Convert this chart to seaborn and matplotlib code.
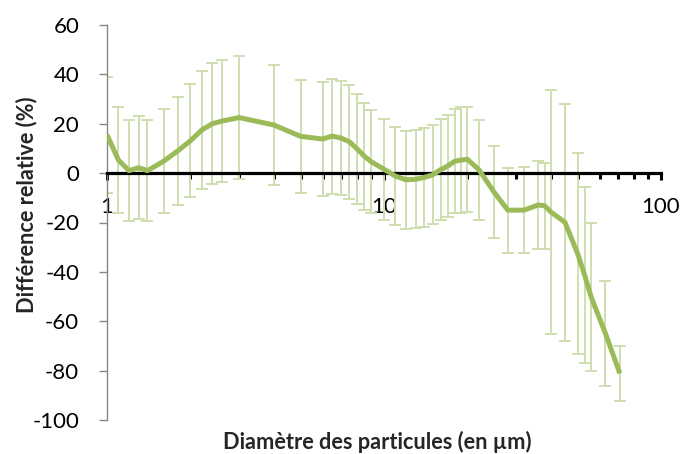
import matplotlib
matplotlib.use("Agg")
import matplotlib.pyplot as plt
import matplotlib.ticker as mticker
import seaborn as sns
import pandas as pd

# Data
diametre = [1.0, 1.1, 1.2, 1.3, 1.4, 1.6, 1.8, 2.0, 2.2, 2.4,
            2.6, 3.0, 4.0, 5.0, 6.0, 6.5, 7.0, 7.5, 8.0, 8.5,
            9.0, 10, 11, 12, 13, 14, 15, 16, 17, 18,
            19, 20, 22, 25, 28, 32, 36, 38, 40, 45,
            50, 53, 56, 63, 71]
difference = [15.5, 5.3, 1.0, 2.2, 1.0, 4.8, 9.0, 13.1, 17.5, 20.0,
              21.1, 22.5, 19.5, 14.9, 13.8, 15.0, 14.2, 12.7, 9.8, 6.8,
              4.6, 1.6, -1.2, -2.7, -2.5, -1.7, -0.7, 1.4, 2.9, 4.8,
              5.3, 5.6, 1.4, -7.8, -15.0, -15.0, -12.9, -13.2, -15.7, -19.9,
              -32.6, -41.3, -50.3, -64.9, -81.1]
erreur = [23.5, 21.3, 20.5, 20.9, 20.5, 21.0, 22.0, 22.9, 24.0, 24.5,
          24.6, 24.9, 24.2, 23.0, 23.0, 23.3, 23.0, 23.0, 22.3, 21.8,
          20.9, 20.5, 19.9, 19.8, 19.9, 20.0, 20.0, 20.4, 20.6, 21.0,
          21.3, 21.2, 20.3, 18.6, 17.2, 17.3, 17.8, 17.5, 49.3, 48.1,
          40.8, 35.5, 30.0, 21.3, 11.1]
y_ticks = [-100, -80, -60, -40, -20, 0, 20, 40, 60]
x_ticks = [1, 10, 100]
x_tick_labels = ["1", "10", "100"]

df = pd.DataFrame({"diametre": diametre, "difference": difference, "erreur": erreur})

sns.set_theme(style="white")
plt.rcParams["font.family"] = ["Lato", "DejaVu Sans"]
plt.rcParams["axes.unicode_minus"] = False

line_color = "#9BBB59"
err_color = "#CFDFB0"

fig = plt.figure(figsize=(6.83, 4.54), dpi=100)
ax = fig.add_axes([107 / 683, 34 / 454, 554 / 683, 395 / 454])

ax.errorbar(df["diametre"], df["difference"], yerr=df["erreur"], fmt="none",
            ecolor=err_color, elinewidth=1.4, capsize=4.5, capthick=1.4, zorder=1)
sns.lineplot(data=df, x="diametre", y="difference", ax=ax, color=line_color,
             linewidth=3.6, zorder=4, solid_joinstyle="round", solid_capstyle="butt")

ax.set_xscale("log")
ax.set_xlim(1, 100)
ax.set_ylim(-100, 60)
ax.set_yticks(y_ticks)
ax.set_xticks(x_ticks)
ax.set_xticklabels(x_tick_labels)
ax.xaxis.set_minor_locator(mticker.LogLocator(base=10, subs=range(2, 10)))
ax.xaxis.set_minor_formatter(mticker.NullFormatter())

ax.spines["top"].set_visible(False)
ax.spines["right"].set_visible(False)
ax.spines["bottom"].set_position(("data", 0))
ax.spines["bottom"].set_color("black")
ax.spines["bottom"].set_linewidth(2.3)
ax.spines["bottom"].set_zorder(3)
ax.spines["left"].set_color("#868686")
ax.spines["left"].set_linewidth(1.0)

ax.tick_params(axis="x", which="both", bottom=True)
ax.tick_params(axis="y", which="both", left=True)
ax.tick_params(axis="x", which="major", direction="out", length=5, width=2.2,
               color="black", labelsize=16, pad=12)
ax.tick_params(axis="x", which="minor", direction="out", length=4, width=2.2,
               color="black")
ax.tick_params(axis="y", which="major", direction="out", length=6, width=1.0,
               color="#868686", labelsize=16, pad=14)
for lab in ax.get_xticklabels() + ax.get_yticklabels():
    lab.set_color("black")

ax.set_xlabel("")
ax.set_ylabel("")
fig.text(377 / 683, 1 - 442 / 454, "Diamètre des particules (en µm)",
         ha="center", va="center", fontsize=15.7, fontweight="bold")
fig.text(27 / 683, 1 - 205 / 454, "Différence relative (%)",
         ha="center", va="center", rotation=90, fontsize=15.7, fontweight="bold")

fig.savefig("out.png", dpi=100)
